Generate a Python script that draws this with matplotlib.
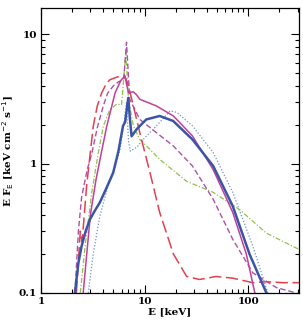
import numpy as np
import matplotlib
matplotlib.use("Agg")
import matplotlib.pyplot as plt
from matplotlib.ticker import LogLocator, NullFormatter, FixedLocator, FixedFormatter

# thick blue solid
e_blue = [2.13, 2.3, 2.47, 2.7, 2.97, 3.3, 3.7, 4.3, 4.98, 5.6, 6.2, 6.5, 6.97, 7.2, 7.5, 8.4, 10.4, 14, 18.9, 29, 46, 71, 103, 150]
f_blue = [0.1, 0.17, 0.23, 0.3, 0.37, 0.43, 0.5, 0.65, 0.85, 1.25, 1.96, 2.1, 3.23, 2.3, 1.63, 1.85, 2.2, 2.34, 2.14, 1.54, 0.96, 0.47, 0.2, 0.1]

# blue dotted
e_dot = [2.86, 3.2, 3.7, 4.5, 5.3, 5.8, 6.3, 6.7, 7.0, 7.3, 8.5, 9.7, 13, 17.6, 20.4, 29, 46, 71, 111, 155]
f_dot = [0.1, 0.2, 0.39, 0.7, 1.0, 1.29, 2.0, 3.0, 1.5, 1.25, 1.35, 1.54, 1.96, 2.56, 2.5, 1.96, 1.22, 0.6, 0.23, 0.1]

# magenta solid
e_mag = [2.56, 2.8, 3.0, 3.4, 3.77, 4.32, 5.2, 5.9, 6.45, 7.0, 7.8, 8.4, 9.0, 13, 19, 29, 46, 71, 96, 116]
f_mag = [0.1, 0.22, 0.4, 0.75, 1.14, 1.95, 3.53, 4.4, 4.77, 3.55, 3.6, 3.4, 3.15, 2.8, 2.34, 1.64, 0.9, 0.42, 0.2, 0.1]

# purple short dash
e_pur = [2.13, 2.3, 2.47, 2.8, 3.1, 3.5, 4.0, 4.4, 5.0, 5.6, 6.3, 6.7, 7.2, 9.0, 13, 19, 29, 46, 71, 111, 187, 290]
f_pur = [0.1, 0.3, 0.55, 0.9, 1.2, 1.9, 2.8, 3.5, 4.0, 4.3, 4.5, 8.7, 3.15, 2.2, 1.74, 1.37, 0.96, 0.53, 0.26, 0.143, 0.11, 0.1]

# red long dash
e_red = [2.2, 2.4, 2.5, 2.76, 2.97, 3.2, 3.5, 3.86, 4.3, 4.65, 5.5, 6.45, 7.0, 7.8, 9.0, 11.3, 14, 19, 25.5, 34, 49, 71, 111, 150, 217, 310]
f_red = [0.1, 0.3, 0.25, 0.67, 1.14, 1.95, 2.8, 3.53, 4.2, 4.47, 4.7, 4.77, 4.0, 2.8, 1.74, 0.85, 0.42, 0.2, 0.134, 0.127, 0.134, 0.13, 0.12, 0.122, 0.12, 0.12]

# green dash-dot
e_grn = [2.4, 2.7, 3.1, 3.53, 4.0, 4.6, 5.4, 6.0, 6.6, 7.0, 7.8, 9.0, 11.3, 14, 25.5, 46, 83, 150, 310]
f_grn = [0.1, 0.25, 0.6, 1.14, 1.95, 2.6, 2.9, 2.85, 7.2, 3.15, 1.96, 1.54, 1.29, 1.08, 0.73, 0.6, 0.44, 0.29, 0.217]

fig = plt.figure(figsize=(3.03, 3.24), dpi=100)
ax = fig.add_axes([0.135, 0.096, 0.852, 0.879])

ax.plot(e_dot, f_dot, color="#7090d0", lw=0.9, ls=(0, (1, 1.5)))
ax.plot(e_grn, f_grn, color="#90c050", lw=0.9, ls=(0, (4, 1.5, 1, 1.5)))
ax.plot(e_pur, f_pur, color="#b050a8", lw=1.0, ls=(0, (4, 2)))
ax.plot(e_red, f_red, color="#e04050", lw=1.1, ls=(0, (8, 3)))
ax.plot(e_mag, f_mag, color="#c0409a", lw=1.1)
ax.plot(e_blue, f_blue, color="#3a55a5", lw=1.8)

ax.set_xscale("log")
ax.set_yscale("log")
ax.set_xlim(1, 310)
ax.set_ylim(0.1, 16)

font = dict(family="DejaVu Serif", size=7.5, weight="bold")
ax.xaxis.set_major_locator(FixedLocator([1, 10, 100]))
ax.xaxis.set_major_formatter(FixedFormatter(["1", "10", "100"]))
ax.yaxis.set_major_locator(FixedLocator([0.1, 1, 10]))
ax.yaxis.set_major_formatter(FixedFormatter(["0.1", "1", "10"]))
ax.xaxis.set_minor_locator(LogLocator(base=10, subs=np.arange(2, 10)))
ax.yaxis.set_minor_locator(LogLocator(base=10, subs=np.arange(2, 10)))
ax.xaxis.set_minor_formatter(NullFormatter())
ax.yaxis.set_minor_formatter(NullFormatter())
ax.tick_params(which="both", direction="in", top=True, right=True, width=0.8)
ax.tick_params(which="major", length=6, pad=3)
ax.tick_params(which="minor", length=3)
for lab in ax.get_xticklabels() + ax.get_yticklabels():
    lab.set_fontproperties(matplotlib.font_manager.FontProperties(**font))

ax.set_xlabel("E [keV]", fontdict=font, labelpad=1)
ax.set_ylabel(r"E F$_{\rm E}$ [keV cm$^{-2}$ s$^{-1}$]", fontdict=font, labelpad=2)
for s in ax.spines.values():
    s.set_linewidth(0.9)

fig.savefig("out.png", dpi=100)
